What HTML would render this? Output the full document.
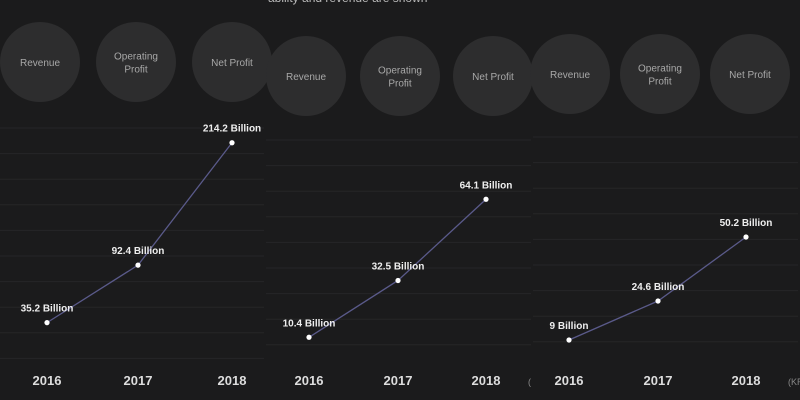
<!DOCTYPE html>
<html><head><meta charset="utf-8"><style>
body{margin:0;background:#1b1b1c;width:800px;height:400px;overflow:hidden;font-family:"Liberation Sans",sans-serif}
svg{display:block}
</style></head><body>
<svg id="c" width="800" height="400">
<text x="268" y="2" fill="#bbb" font-size="12">ability and revenue are shown</text>
</svg>
<script>
const years=["2016","2017","2018"];
const netProfit=[35.2,92.4,214.2];
const opProfit=[10.4,32.5,64.1];
const netProfit2=[9,24.6,50.2];
const labels1=["35.2 Billion","92.4 Billion","214.2 Billion"];
const labels2=["10.4 Billion","32.5 Billion","64.1 Billion"];
const labels3=["9 Billion","24.6 Billion","50.2 Billion"];
const svg=document.getElementById('c');
const NS="http://www.w3.org/2000/svg";
function mk(t,a,p){const e=document.createElementNS(NS,t);for(const k in a)e.setAttribute(k,a[k]);(p||svg).appendChild(e);return e;}
const panels=[
 {x0:0,x1:266,cy:62,cx:[40,136,232],px:[47,138,232],zero:358,scale:1.005,gridTop:128,vals:netProfit,labs:labels1},
 {x0:266,x1:533,cy:76,cx:[306,400,493],px:[309,398,486],zero:364,scale:2.57,gridTop:140,vals:opProfit,labs:labels2},
 {x0:533,x1:800,cy:74,cx:[570,660,750],px:[569,658,746],zero:362.5,scale:2.5,gridTop:137,vals:netProfit2,labs:labels3}
];
const circ=["Revenue","Operating|Profit","Net Profit"];
panels.forEach((p,pi)=>{
 const g=mk('g',{});
 
 
 for(let y=p.gridTop;y<=p.zero+1;y+=25.6){
  const l=mk('line',{x1:p.x0,x2:p.x1-2,y1:y,y2:y,stroke:'#262627','stroke-width':1},g);
  
  
 }
 p.cx.forEach((cx,i)=>{
  const c=mk('circle',{cx:cx,cy:p.cy,r:40,fill:'#2d2d2e'},g);
  
  
  const parts=circ[i].split('|');
  parts.forEach((s,j)=>{
   const t=mk('text',{x:cx,y:p.cy+4+(j-(parts.length-1)/2)*13,'text-anchor':'middle',fill:'#a8a8a8','font-size':10},g);
   t.textContent=s;
   
   
  });
 });
 const yy=v=>p.zero-v*p.scale;
 const pts=p.vals.map((v,i)=>p.px[i]+','+yy(v)).join(' ');
 const pl=mk('polyline',{points:pts,fill:'none',stroke:'#5a5a8a','stroke-width':1.3},g);
 
 
 p.vals.forEach((v,i)=>{
  const d=mk('circle',{cx:p.px[i],cy:yy(v),r:2.6,fill:'#fff'},g);
  
  
  const t=mk('text',{x:p.px[i],y:yy(v)-11,'text-anchor':'middle',fill:'#eee','font-size':10,'font-weight':'bold'},g);
  t.textContent=p.labs[i];
  
  
  const yl=mk('text',{x:p.px[i],y:385,'text-anchor':'middle',fill:'#ddd','font-size':13,'font-weight':'bold'},g);
  yl.textContent=years[i];
  
  
 });
});
const u=mk('text',{x:788,y:385,fill:'#888','font-size':9});
u.textContent='(KRW)';


const u2=mk('text',{x:528,y:385,fill:'#888','font-size':9});
u2.textContent='(';


</script>
</body></html>
